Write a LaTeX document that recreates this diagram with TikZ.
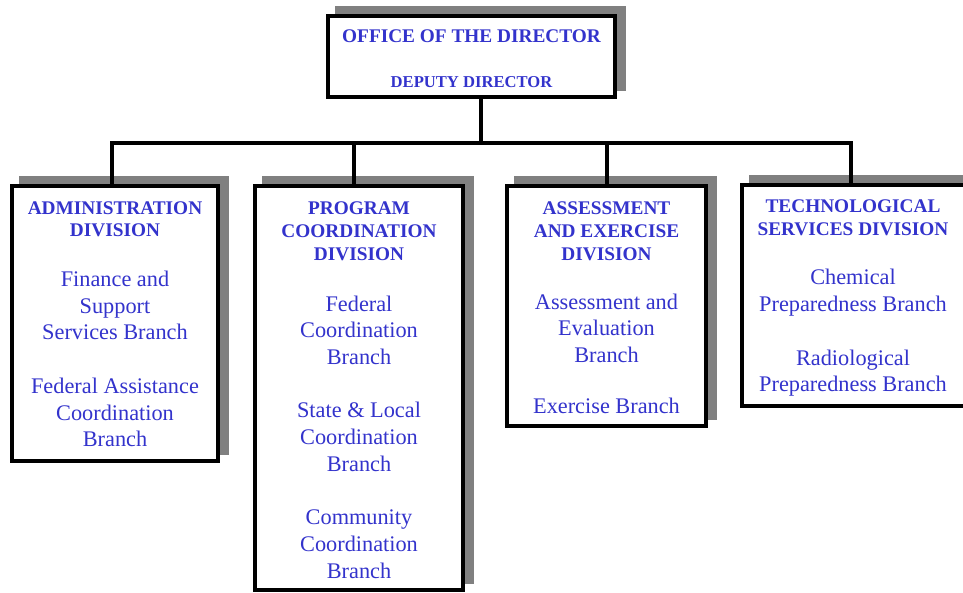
\documentclass[tikz,border=0pt]{standalone}
\usepackage{fontspec}
\setmainfont{Liberation Serif}
\usetikzlibrary{shadows}
\definecolor{orgblue}{RGB}{51,51,204}

\begin{document}
\begin{tikzpicture}[x=1pt, y=-1pt,
    unit/.style={draw, line width=4pt, fill=white, inner sep=0pt,
      drop shadow={shadow xshift=9pt, shadow yshift=8pt, fill=black!50, draw=black!50, line width=4pt, opacity=1}},
    head/.style={text=orgblue, font=\bfseries\fontsize{19.3}{22.6}\selectfont, align=center, anchor=base, inner sep=0pt},
    branch/.style={text=orgblue, font=\fontsize{22.3}{26.7}\selectfont, align=center, anchor=base, inner sep=0pt},
    link/.style={line width=4pt}]
    \clip (0,0) rectangle (963,592);
    \fill[white] (0,0) rectangle (963,592);

    \node[unit, minimum width=287pt, minimum height=81pt] (dir) at (471.5,56.5) {};
    \node[unit, minimum width=206pt, minimum height=275pt] (admin) at (115,323.5) {};
    \node[unit, minimum width=208pt, minimum height=404pt] (prog) at (359,388) {};
    \node[unit, minimum width=199pt, minimum height=240pt] (assess) at (606.5,306) {};
    \node[unit, minimum width=224pt, minimum height=221pt] (tech) at (854,295.5) {};

    \coordinate (bus) at (481,143);
    \draw[link] (dir.south -| bus) -- (bus);
    \draw[link] ([xshift=-3pt]admin.north) |- (bus) -| ([xshift=-3pt]tech.north);
    \draw[link] ([xshift=-5pt]prog.north) -- ([xshift=-5pt]prog.north |- bus);
    \draw[link] (assess.north) -- (assess.north |- bus);

    % multi-line nodes sit on the baseline of their last line
    \node[head] (dir-head) at (471.5,42.3) {OFFICE OF THE DIRECTOR};
    \node[head, font=\bfseries\fontsize{16.6}{20}\selectfont] (dir-deputy) at (471.5,87.3) {DEPUTY DIRECTOR};

    \node[head] (admin-head) at (115,236.7) {ADMINISTRATION\\DIVISION};
    \node[branch] (admin-body) at (115,446.7) {Finance and\\Support\\Services Branch\\[26.7pt]Federal Assistance\\Coordination\\Branch};

    \node[head] (prog-head) at (359,260) {PROGRAM\\COORDINATION\\DIVISION};
    \node[branch] (prog-body) at (359,578) {Federal\\Coordination\\Branch\\[26.7pt]State \& Local\\Coordination\\Branch\\[26.7pt]Community\\Coordination\\Branch};

    \node[head] (assess-head) at (606.5,260) {ASSESSMENT\\AND EXERCISE\\DIVISION};
    \node[branch] (assess-body) at (606.5,413.3) {Assessment and\\Evaluation\\Branch\\[24pt]Exercise Branch};

    \node[head] (tech-head) at (853,235) {TECHNOLOGICAL\\SERVICES DIVISION};
    \node[branch] (tech-body) at (853,391.7) {Chemical\\Preparedness Branch\\[26.7pt]Radiological\\Preparedness Branch};
\end{tikzpicture}
\end{document}
